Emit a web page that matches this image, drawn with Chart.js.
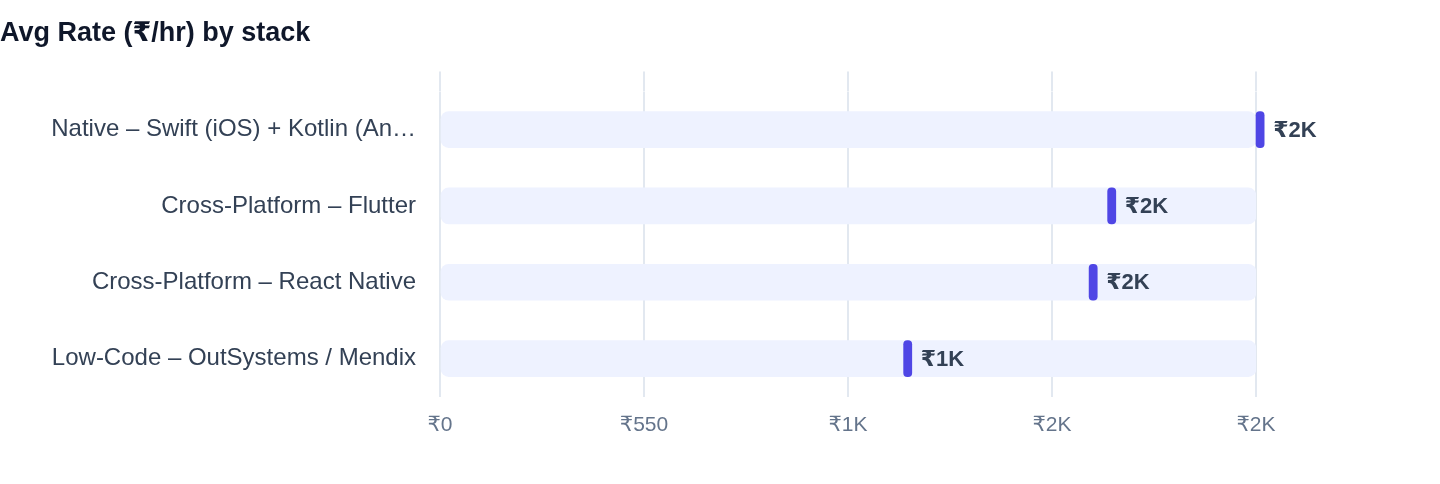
<!DOCTYPE html>
<html lang="en">
<head>
  <meta charset="UTF-8">
  <title>Avg Rate by stack</title>
  <script src="https://cdn.jsdelivr.net/npm/chart.js"></script>
  <style>
    body { margin: 0; background: #fff; }
    #wrap { width: 1440px; height: 484px; }
  </style>
</head>
<body>
<div id="wrap">
  <canvas id="rateChart"></canvas>
</div>

<script>
  // Datos
  const stacks = [
    "Native – Swift (iOS) + Kotlin (Android)",
    "Cross-Platform – Flutter",
    "Cross-Platform – React Native",
    "Low-Code – OutSystems / Mendix"
  ];
  const avgRates = [2200, 1800, 1750, 1250];
  const xTicks = [0, 550, 1100, 1650, 2200];

  const FONT = "'Liberation Sans', Arial, 'DejaVu Sans', sans-serif";
  const MARKER_W = 22; // ancho del marcador en unidades del eje
  const axisMax = xTicks[xTicks.length - 1];
  const compact = new Intl.NumberFormat("en-US", { notation: "compact", maximumFractionDigits: 0 });

  function rupees(v) {
    return "₹" + compact.format(v);
  }

  function shorten(label) {
    return label.length > 34 ? label.slice(0, 33) + "…" : label;
  }

  // etiquetas de valor a la derecha del marcador
  const valueLabels = {
    id: "valueLabels",
    afterDatasetsDraw(chart) {
      const meta = chart.getDatasetMeta(0);
      const ctx = chart.ctx;
      ctx.save();
      ctx.font = "bold 22px " + FONT;
      ctx.fillStyle = "#334155";
      ctx.textAlign = "left";
      ctx.textBaseline = "middle";
      meta.data.forEach((bar, i) => {
        ctx.fillText(rupees(avgRates[i]), bar.x + 9, bar.y + 1);
      });
      ctx.restore();
    }
  };

  new Chart(document.getElementById("rateChart"), {
    type: "bar",
    data: {
      labels: stacks,
      datasets: [
        {
          label: "Avg rate",
          data: avgRates.map(v => [v, v + MARKER_W]),
          backgroundColor: "#4f46e5",
          borderRadius: 4,
          borderSkipped: false,
          barThickness: 36,
          grouped: false,
          clip: false,
          order: 0
        },
        {
          label: "Track",
          data: stacks.map(() => axisMax),
          backgroundColor: "#eef2ff",
          borderRadius: 8,
          borderSkipped: false,
          barThickness: 36,
          grouped: false,
          order: 1
        }
      ]
    },
    options: {
      indexAxis: "y",
      responsive: true,
      maintainAspectRatio: false,
      animation: false,
      layout: { padding: { top: 0, left: 0, right: 184, bottom: 30 } },
      plugins: {
        legend: { display: false },
        tooltip: { enabled: false },
        title: {
          display: true,
          text: "Avg Rate (₹/hr) by stack",
          align: "start",
          color: "#0f172a",
          font: { family: FONT, size: 27, weight: "bold" },
          padding: { top: 17, bottom: 22 }
        }
      },
      scales: {
        x: {
          min: 0,
          max: axisMax,
          border: { display: false },
          grid: { color: "#e2e8f0", lineWidth: 2, drawTicks: false },
          ticks: {
            stepSize: xTicks[1] - xTicks[0],
            padding: 16,
            color: "#64748b",
            font: { family: FONT, size: 21 },
            callback: v => rupees(v)
          }
        },
        // eje superior solo para prolongar las líneas de la cuadrícula
        xTop: {
          position: "top",
          axis: "x",
          min: 0,
          max: axisMax,
          border: { display: false },
          grid: { color: "#e2e8f0", lineWidth: 2, drawOnChartArea: false, drawTicks: true, tickLength: 20 },
          ticks: { display: false, stepSize: xTicks[1] - xTicks[0] }
        },
        y: {
          border: { display: false },
          grid: { display: false },
          afterFit: scale => { scale.width = 440; },
          ticks: {
            padding: 16,
            color: "#334155",
            font: { family: FONT, size: 24 },
            callback: function (v) { return shorten(this.getLabelForValue(v)); }
          }
        }
      }
    },
    plugins: [valueLabels]
  });
</script>
</body>
</html>
